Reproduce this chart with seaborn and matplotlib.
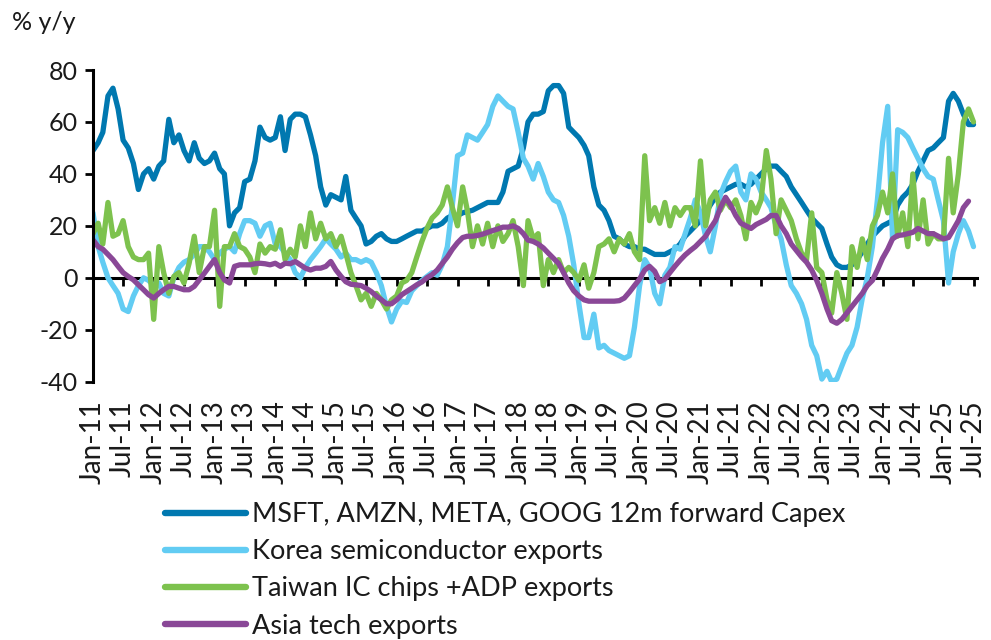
import numpy as np
import pandas as pd
import matplotlib
matplotlib.use("Agg")
import matplotlib.pyplot as plt
from matplotlib.lines import Line2D
import seaborn as sns

# ---------------- data (monthly, starting Jan-2011) ----------------
start_month = "2011-01-01"

capex = [
    49, 52, 56, 70, 73, 65, 53, 50, 44, 34, 40, 42,          # 2011
    38, 43, 45, 61, 52, 55, 49, 45, 52, 46, 44, 45,          # 2012
    48, 42, 40, 20, 25, 27, 37, 38, 45, 58, 54, 53,          # 2013
    54, 62, 49, 61, 63, 63, 62, 55, 47, 35, 28, 32,          # 2014
    31, 30, 39, 26, 23, 20, 13, 14, 16, 17, 15, 14,          # 2015
    14, 15, 16, 17, 18, 18, 19, 20, 20, 21, 23, 24,          # 2016
    24, 25, 25.5, 26, 27, 28, 29, 29, 29, 33, 41, 42,        # 2017
    43, 50, 60, 63, 63, 64, 72, 74, 74, 71, 58, 56,          # 2018
    54, 51, 47, 35, 28, 26, 22, 16, 15, 13, 12, 12,          # 2019
    11, 11, 10, 9, 9, 9, 10, 11, 13, 16, 18, 20,             # 2020
    22, 25, 28, 31, 33, 34, 35, 36, 36, 35, 36, 38,          # 2021
    40, 42, 43, 43, 41, 39, 35, 32, 29, 26, 23, 21,          # 2022
    19, 13, 8, 5, 4, 4, 5, 7, 10, 13, 16, 18,                # 2023
    20, 21, 22, 28, 31, 33, 36, 41, 45, 49, 50, 52,          # 2024
    54, 68, 71, 68, 63, 59, 59,                              # 2025
]

korea = [
    25, 12, 6, 0, -3, -6, -12, -13, -7, -3, 0, -1,           # 2011
    -3, -2, -6, -7, 0, 4, 6, 7, 9, 12, 12, 10,               # 2012
    7, 9.5, 11, 12, 10, 17, 22, 22, 21, 16, 20, 21,          # 2013
    13, 12, 9.5, 7, 2, 0, 4, 7, 9.5, 12, 15, 13,             # 2014
    11, 8, 9.5, 7, 7, 6, 7, 6, 2, -3, -11, -17,              # 2015
    -12, -9, -9.5, -5, -3, -1, 0.5, 2, 1, 5, 12, 28,         # 2016
    47, 48, 55, 54, 53, 56, 59, 66, 70, 68, 66, 65,          # 2017
    56, 46, 43, 38, 44, 39, 33, 30, 29, 24, 16, 5,           # 2018
    -10, -23, -23, -14, -27, -26, -28, -29, -30, -31, -30, -19,  # 2019
    -3, 7, 4, -6, -10, 1, 4, 12, 11, 17, 23, 30,             # 2020
    25, 16, 10, 20, 32, 37, 41, 43, 33, 30, 40, 38,          # 2021
    33, 30, 27, 20, 15, 5, -3, -6, -10, -16, -26, -30,       # 2022
    -39, -36, -40, -39, -34, -29, -26, -19, -8, 0, 12, 30,   # 2023
    52, 66, 15, 57, 56, 54, 50, 46, 42, 39, 38, 30,          # 2024
    22, -2, 10, 17, 22, 18, 12,                              # 2025
]

taiwan = [
    17, 21, 13, 29, 16, 17, 22, 12, 8, 7, 7, 9.5,            # 2011
    -16, 12, 2, -6, 0.5, 2, -2, 5.6, 16, 2, 12, 12,          # 2012
    26, -11, 12, 12, 17, 12, 11, 8, 2, 13, 9.5, 12,          # 2013
    11, 18.5, 7, 11, 8, 20, 12, 25, 15, 21, 15, 17,          # 2014
    12, 16, 9.5, 2, -3, -8.5, -6, -11, -6, -8.5, -12, -8.5,  # 2015
    -7, -2, -1, 2, 8, 14, 19, 23, 25, 28, 35, 27,            # 2016
    20, 35, 26, 12, 20, 13, 21, 12, 20, 14, 17, 22,          # 2017
    12, -3, 22, 15, 17, -3, 7, 2, 7, 2, 4, 2,                # 2018
    -1, 5, -4, 2, 12, 13, 15, 10, 15, 13, 17, 10,            # 2019
    7, 47, 22, 27, 21, 29, 20, 27, 24, 27, 27, 20,           # 2020
    45, 20, 30, 33, 26, 30, 27, 30, 24, 15, 29, 25,          # 2021
    30, 49, 38, 17, 30, 26, 22, 15, 9.5, 7, 25, 4,           # 2022
    2, -8.5, -13.6, 2, -6, -16, 12, 4, 15, 7, 20, 24,        # 2023
    33, 25, 40, 16, 25, 12, 40, 15, 30, 13, 17, 15,          # 2024
    15, 46, 25, 40, 60, 65, 60,                              # 2025
]

asia = [
    14.6, 12, 11, 9, 7, 4.4, 2, 0.5, -0.8, -2.7, -4.6, -6.5,     # 2011
    -7.8, -6, -4.6, -3.3, -3.3, -4, -4.6, -4.6, -3.3, -0.8, 1.8, 4.4,  # 2012
    7, 2, -0.8, -2, 4.4, 5, 5, 5, 5.4, 5.6, 5.4, 5,              # 2013
    5.6, 4.4, 5.6, 5.4, 6.3, 5, 3.7, 3, 3.7, 3.7, 4.4, 6.3,      # 2014
    3, 0.5, -1.5, -2.5, -2.7, -3, -4, -5.3, -7, -8.5, -10, -10,  # 2015
    -8.5, -6.5, -5.3, -4, -2.7, -1.6, 0, 1.2, 3, 5.5, 8, 11,     # 2016
    13.5, 15.5, 16, 16, 16.3, 16.8, 17.5, 18.2, 18.8, 19.5, 19.5, 20,  # 2017
    19, 17, 14.5, 14, 13, 11.5, 9.5, 7.5, 5.5, 2, -2, -5,        # 2018
    -7, -8.5, -9, -9, -9, -9, -9, -9, -8.8, -7.8, -5.5, -3,      # 2019
    -0.5, 3, 4.4, 2.5, -1.5, -0.5, 2, 4.5, 6.8, 8.8, 10.5, 12,   # 2020
    14, 16, 19, 22, 27, 31, 28, 24, 21, 20, 19, 20.5,            # 2021
    21.5, 22.5, 24, 24, 20, 17, 13, 10.5, 8, 6, 3, -1,           # 2022
    -6, -12, -16.5, -17.5, -16, -13.5, -11, -8.5, -6, -3, -1, 3, # 2023
    7.5, 11, 15, 16.3, 16.5, 17, 17.5, 19, 18, 17, 17, 16,       # 2024
    15, 15.5, 18.5, 22, 27, 29.5,                                # 2025
]

series_names = [
    "MSFT, AMZN, META, GOOG 12m forward Capex",
    "Korea semiconductor exports",
    "Taiwan IC chips +ADP exports",
    "Asia tech exports",
]
series_values = [capex, korea, taiwan, asia]
series_colors = ["#0078B0", "#62CCF3", "#7DC24E", "#8A4897"]

y_ticks = [-40, -20, 0, 20, 40, 60, 80]
tick_dates = pd.date_range("2011-01-01", "2025-07-01", freq="6MS")
tick_labels = [d.strftime("%b-%y") for d in tick_dates]

# ---------------- build long table ----------------
frames = []
for name, vals in zip(series_names, series_values):
    frames.append(pd.DataFrame({
        "date": pd.date_range(start_month, periods=len(vals), freq="MS"),
        "value": vals,
        "series": name,
    }))
df = pd.concat(frames, ignore_index=True)

# ---------------- style ----------------
sns.set_theme(style="white")
plt.rcParams["font.family"] = ["Lato", "DejaVu Sans"]
text_color = "#1a1a1a"

fig = plt.figure(figsize=(9.91, 6.40), dpi=100)
ax = fig.add_axes([93 / 991, 1 - 381.7 / 640, 884 / 991, (381.7 - 70) / 640])

sns.lineplot(
    data=df, x="date", y="value", hue="series",
    hue_order=series_names, palette=dict(zip(series_names, series_colors)),
    linewidth=3.8, ax=ax, legend=False,
)
for ln in ax.get_lines():
    ln.set_solid_capstyle("round")
    ln.set_solid_joinstyle("round")

ax.set_ylim(-40, 80)
ax.set_yticks(y_ticks)
ax.set_yticklabels([str(v) for v in y_ticks])
ax.set_xlim(pd.Timestamp("2011-01-01"), pd.Timestamp("2025-07-22"))
ax.set_xticks(tick_dates)
ax.set_xticklabels(tick_labels)
ax.set_xlabel("")
ax.set_ylabel("")

for side in ["top", "right"]:
    ax.spines[side].set_visible(False)
ax.spines["left"].set_color("black")
ax.spines["left"].set_linewidth(2.2)
ax.spines["bottom"].set_position(("data", 0))
ax.spines["bottom"].set_color("black")
ax.spines["bottom"].set_linewidth(2.2)
ax.spines["bottom"].set_zorder(1)

ax.tick_params(axis="x", direction="out", length=6, width=2, color="black",
               pad=82, labelsize=20, labelcolor=text_color, bottom=True,
               labelrotation=90)
ax.tick_params(axis="y", direction="out", length=6, width=2, color="black",
               pad=5, labelsize=18, labelcolor=text_color, left=True)
for lbl in ax.get_xticklabels():
    lbl.set_ha("center")
    lbl.set_va("top")
ax.grid(False)

fig.text(12 / 991, 1 - 22 / 640, "% y/y", ha="left", va="center",
         fontsize=18, color=text_color)

leg_handles = [Line2D([0], [0], color=c, lw=4.6, solid_capstyle="round") for c in series_colors]
fig.legend(
    leg_handles, series_names, loc="upper left",
    bbox_to_anchor=(165 / 991, 1 - 502 / 640),
    frameon=False, fontsize=19.5, handlelength=3.0, handletextpad=0.2,
    labelspacing=0.45, borderpad=0, borderaxespad=0, labelcolor=text_color,
)

fig.savefig("out.png", dpi=100)
